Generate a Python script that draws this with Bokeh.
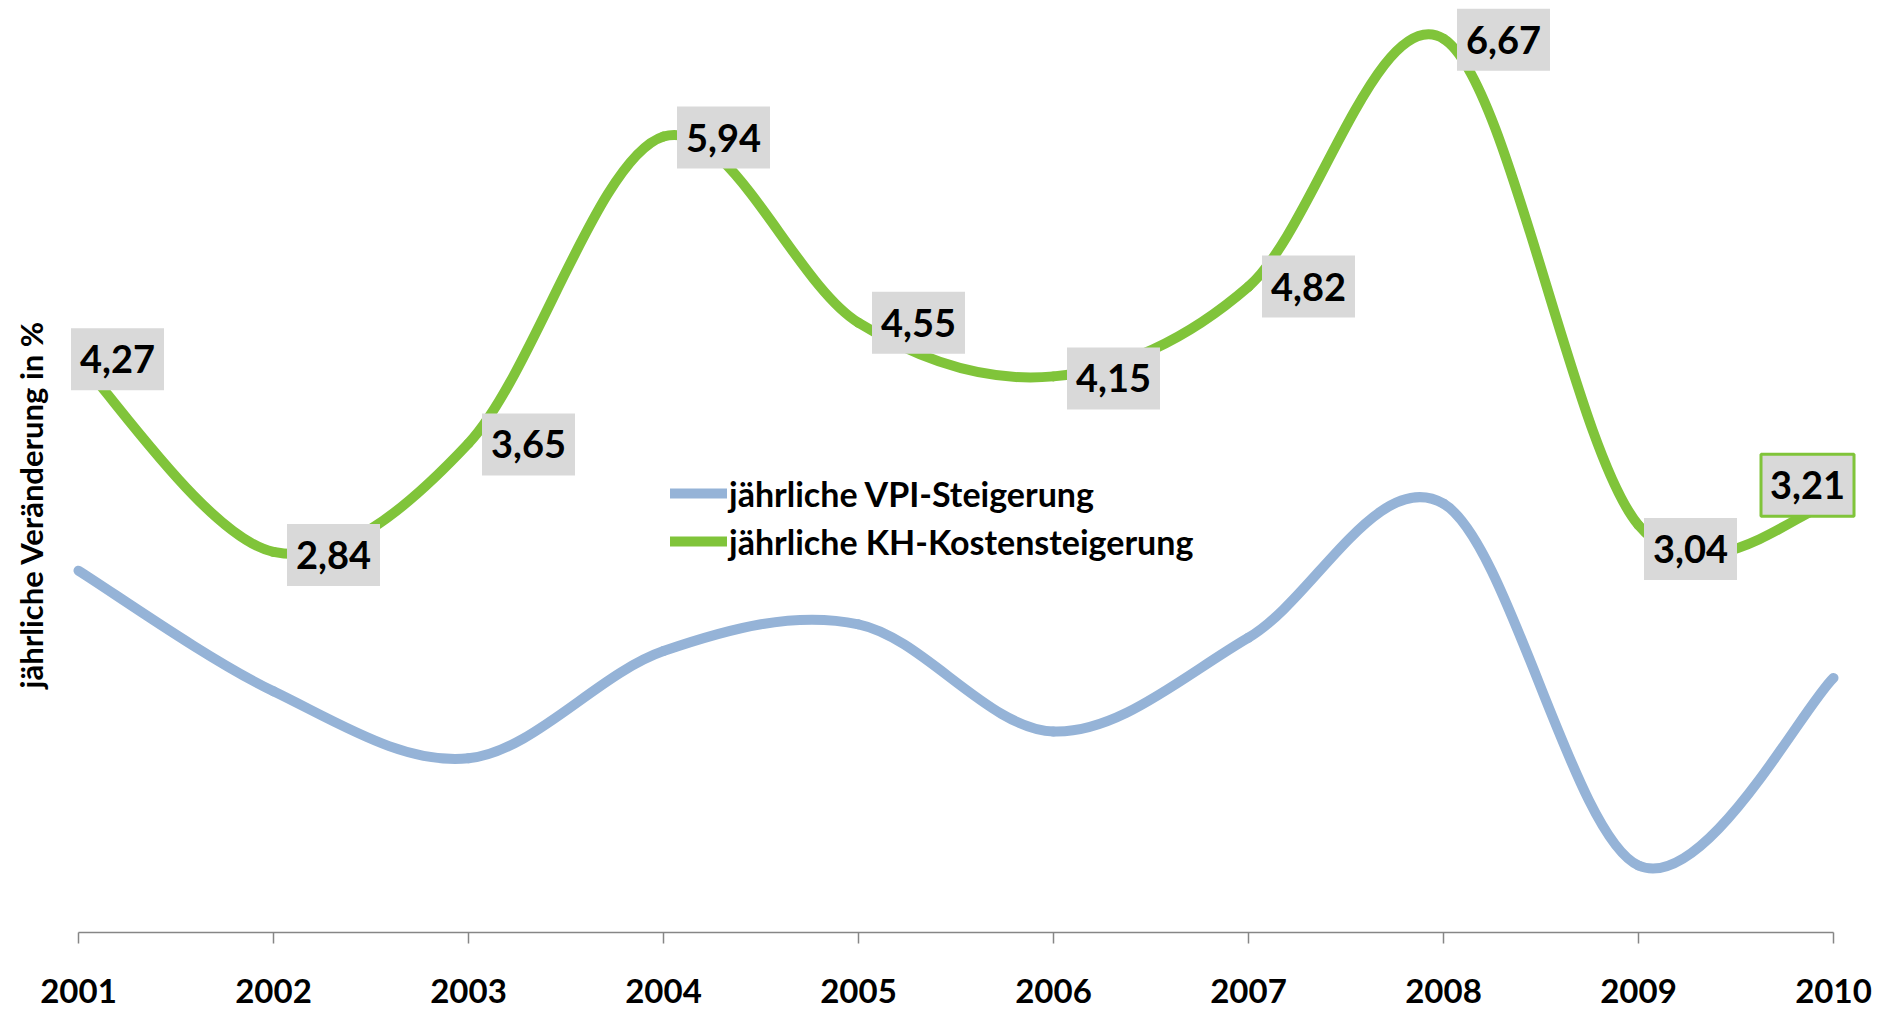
from bokeh.plotting import figure
from bokeh.models import FixedTicker, Label, Legend, LegendItem
from bokeh.core.properties import value
from bokeh.embed import file_html
from bokeh.resources import INLINE

# ---------------- data ----------------
years = [2001, 2002, 2003, 2004, 2005, 2006, 2007, 2008, 2009, 2010]
year_labels = ["2001", "2002", "2003", "2004", "2005", "2006", "2007", "2008", "2009", "2010"]
vpi = [2.7, 1.8, 1.3, 2.1, 2.3, 1.5, 2.2, 3.2, 0.5, 1.9]
kh = [4.27, 2.84, 3.65, 5.94, 4.55, 4.15, 4.82, 6.67, 3.04, 3.21]
kh_labels = ["4,27", "2,84", "3,65", "5,94", "4,55", "4,15", "4,82", "6,67", "3,04", "3,21"]
series_names = ["jährliche VPI-Steigerung", "jährliche KH-Kostensteigerung"]
y_title = "jährliche Veränderung in %"

# label placement (screen px offsets of label centre from its point)
lab_dx = [39, 60, 60, 60, 60, 60, 60, 60, 52, -26]
lab_dy = [-1, 3, 1, 1, 0, 2, 0, 1, 24, -17]

BLUE = "#95B3D7"
GREEN = "#80C43A"
FONT = value("Lato")


def smooth(xs, ys):
    """Bezier segments of a Catmull-Rom (Excel-like) smoothed line through the points."""
    n = len(xs)
    out = {k: [] for k in ("x0", "y0", "x1", "y1", "cx0", "cy0", "cx1", "cy1")}
    for i in range(n - 1):
        a = max(i - 1, 0)
        b = min(i + 2, n - 1)
        out["x0"].append(xs[i]); out["y0"].append(ys[i])
        out["x1"].append(xs[i + 1]); out["y1"].append(ys[i + 1])
        out["cx0"].append(xs[i] + (xs[i + 1] - xs[a]) / 6.0)
        out["cy0"].append(ys[i] + (ys[i + 1] - ys[a]) / 6.0)
        out["cx1"].append(xs[i + 1] - (xs[b] - xs[i]) / 6.0)
        out["cy1"].append(ys[i + 1] - (ys[b] - ys[i]) / 6.0)
    return out


p = figure(width=1888, height=1011, output_backend="svg", toolbar_location=None,
           x_range=(2000.6, 2010.282), y_range=(-0.5896, 6.955),
           y_axis_location=None, min_border=0,
           min_border_left=0, min_border_right=0, min_border_top=0, min_border_bottom=0)
p.outline_line_color = None
p.grid.visible = False
p.background_fill_color = "white"
p.border_fill_color = "white"

r_blue = p.bezier(line_color=BLUE, line_width=10, line_cap="round", **smooth(years, vpi))
r_green = p.bezier(line_color=GREEN, line_width=10, line_cap="round", **smooth(years, kh))

# data labels
n = len(years)
idx_plain = list(range(n - 1))
p.text(x=[years[i] for i in idx_plain], y=[kh[i] for i in idx_plain],
       text=[kh_labels[i] for i in idx_plain],
       x_offset=[lab_dx[i] for i in idx_plain], y_offset=[lab_dy[i] for i in idx_plain],
       text_font=FONT, text_font_style="bold", text_font_size="38px", text_color="black",
       text_align="center", text_baseline="middle",
       background_fill_color="#D9D9D9", padding=(9, 17))
p.text(x=[years[-1]], y=[kh[-1]], text=[kh_labels[-1]],
       x_offset=[lab_dx[-1]], y_offset=[lab_dy[-1]],
       text_font=FONT, text_font_style="bold", text_font_size="38px", text_color="black",
       text_align="center", text_baseline="middle",
       background_fill_color="#D9D9D9", padding=(9, 17),
       border_line_color=GREEN, border_line_width=3)

# x axis at y = 0
ax = p.xaxis[0]
ax.fixed_location = 0
ax.bounds = (years[0], years[-1])
ax.ticker = FixedTicker(ticks=years)
ax.major_label_overrides = {y: s for y, s in zip(years, year_labels)}
ax.minor_tick_line_color = None
ax.major_tick_in = 0
ax.major_tick_out = 11
ax.axis_line_color = "#868686"
ax.axis_line_width = 1.5
ax.major_tick_line_color = "#868686"
ax.major_tick_line_width = 1.5
ax.major_label_text_font = "Lato"
ax.major_label_text_font_style = "bold"
ax.major_label_text_font_size = "33px"
ax.major_label_text_color = "black"
ax.major_label_standoff = 36

# y axis title
p.add_layout(Label(x=30, y=507, x_units="screen", y_units="screen", text=y_title,
                   angle=90, angle_units="deg", text_align="center", text_baseline="middle",
                   text_font="Lato", text_font_style="bold", text_font_size="31px",
                   text_color="black"))

legend = Legend(items=[LegendItem(label=series_names[0], renderers=[r_blue]),
                       LegendItem(label=series_names[1], renderers=[r_green])],
                location=(670, 446), orientation="vertical",
                background_fill_alpha=0, border_line_color=None,
                padding=0, margin=0, spacing=0,
                glyph_width=57, glyph_height=48, label_height=48, label_standoff=2,
                label_text_font="Lato", label_text_font_style="bold",
                label_text_font_size="34px", label_text_color="black")
p.add_layout(legend)

open("out.html", "w").write(file_html(p, INLINE))
